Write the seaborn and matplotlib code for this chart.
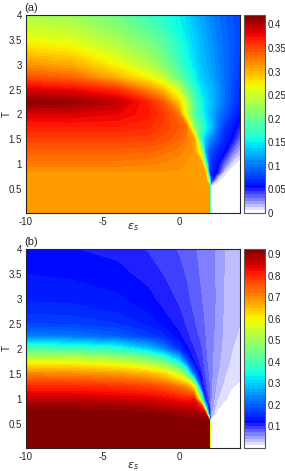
import matplotlib
matplotlib.use('Agg')
import matplotlib.pyplot as plt
from matplotlib.colors import ListedColormap
import numpy as np
import seaborn as sns

# grid (denser near the phase boundary)
eps_s = [-10, -7, -4, -2, -1, 0, 0.5, 1, 1.5, 1.75, 2.0, 2.1, 2.5, 3, 3.5, 4]
temps = [0.02, 0.55, 0.7, 0.85, 1.0, 1.25, 1.5, 1.75, 2.0, 2.25, 2.5, 2.75, 3.0, 3.5, 4.0]

# panel (a): one row per temperature, columns follow eps_s
panel_a = [
    [0.314, 0.314, 0.314, 0.314, 0.314, 0.314, 0.314, 0.314, 0.314, 0.314, 0.314, 0, 0, 0, 0, 0],
    [0.314, 0.314, 0.314, 0.314, 0.314, 0.314, 0.314, 0.314, 0.314, 0.314, 0.314, 0, 0, 0, 0, 0],
    [0.314, 0.314, 0.314, 0.314, 0.314, 0.314, 0.314, 0.314, 0.314, 0.314, 0.2, 0.06, 0.013, 0, 0, 0],
    [0.315, 0.315, 0.315, 0.315, 0.315, 0.314, 0.314, 0.314, 0.314, 0.3, 0.07, 0.066, 0.054, 0.01, 0, 0],
    [0.324, 0.324, 0.324, 0.322, 0.32, 0.317, 0.314, 0.314, 0.314, 0.2, 0.075, 0.07, 0.058, 0.03, 0.009, 0],
    [0.337, 0.337, 0.337, 0.335, 0.33, 0.324, 0.318, 0.314, 0.24, 0.11, 0.085, 0.082, 0.068, 0.056, 0.031, 0.0145],
    [0.352, 0.352, 0.352, 0.35, 0.345, 0.335, 0.325, 0.31, 0.16, 0.13, 0.11, 0.105, 0.085, 0.065, 0.0525, 0.031],
    [0.366, 0.367, 0.367, 0.362, 0.352, 0.342, 0.33, 0.22, 0.175, 0.155, 0.14, 0.135, 0.1, 0.072, 0.062, 0.047],
    [0.385, 0.385, 0.38, 0.37, 0.355, 0.33, 0.255, 0.19, 0.16, 0.145, 0.13, 0.125, 0.105, 0.088, 0.072, 0.058],
    [0.415, 0.41, 0.395, 0.365, 0.34, 0.29, 0.245, 0.19, 0.155, 0.145, 0.135, 0.132, 0.115, 0.098, 0.08, 0.066],
    [0.385, 0.378, 0.36, 0.32, 0.295, 0.25, 0.205, 0.17, 0.145, 0.138, 0.13, 0.128, 0.115, 0.098, 0.082, 0.07],
    [0.345, 0.335, 0.3, 0.27, 0.245, 0.2, 0.175, 0.155, 0.135, 0.13, 0.124, 0.122, 0.11, 0.097, 0.085, 0.074],
    [0.315, 0.305, 0.27, 0.238, 0.215, 0.18, 0.16, 0.146, 0.13, 0.125, 0.12, 0.118, 0.108, 0.097, 0.087, 0.076],
    [0.267, 0.258, 0.23, 0.205, 0.188, 0.162, 0.15, 0.138, 0.126, 0.12, 0.115, 0.113, 0.104, 0.095, 0.088, 0.079],
    [0.232, 0.226, 0.2, 0.175, 0.163, 0.15, 0.142, 0.13, 0.12, 0.115, 0.109, 0.107, 0.1, 0.092, 0.086, 0.081],
]

# panel (b)
panel_b = [
    [0.92, 0.92, 0.92, 0.92, 0.92, 0.92, 0.92, 0.92, 0.92, 0.92, 0.92, 0, 0, 0, 0, 0],
    [0.92, 0.92, 0.92, 0.92, 0.92, 0.92, 0.92, 0.918, 0.915, 0.918, 0.92, 0, 0, 0, 0, 0],
    [0.918, 0.918, 0.916, 0.914, 0.912, 0.905, 0.9, 0.9, 0.89, 0.88, 0.095, 0.045, 0.008, 0, 0, 0],
    [0.905, 0.905, 0.9, 0.89, 0.875, 0.865, 0.86, 0.86, 0.8, 0.35, 0.082, 0.055, 0.02, 0.008, 0, 0],
    [0.865, 0.865, 0.855, 0.845, 0.835, 0.82, 0.81, 0.82, 0.45, 0.11, 0.077, 0.058, 0.03, 0.016, 0.008, 0.002],
    [0.8, 0.8, 0.79, 0.775, 0.755, 0.72, 0.7, 0.6, 0.12, 0.09, 0.072, 0.06, 0.039, 0.024, 0.015, 0.012],
    [0.71, 0.705, 0.69, 0.66, 0.63, 0.55, 0.45, 0.2, 0.1, 0.08, 0.069, 0.061, 0.045, 0.03, 0.021, 0.017],
    [0.58, 0.575, 0.55, 0.5, 0.45, 0.33, 0.2, 0.115, 0.09, 0.075, 0.067, 0.061, 0.049, 0.034, 0.026, 0.02],
    [0.41, 0.4, 0.37, 0.3, 0.24, 0.16, 0.12, 0.1, 0.086, 0.073, 0.066, 0.061, 0.052, 0.036, 0.029, 0.024],
    [0.23, 0.225, 0.2, 0.17, 0.15, 0.12, 0.105, 0.093, 0.081, 0.071, 0.065, 0.061, 0.054, 0.038, 0.031, 0.027],
    [0.175, 0.172, 0.16, 0.14, 0.125, 0.11, 0.098, 0.088, 0.077, 0.069, 0.064, 0.061, 0.055, 0.039, 0.033, 0.029],
    [0.155, 0.152, 0.143, 0.128, 0.116, 0.103, 0.094, 0.084, 0.074, 0.068, 0.063, 0.06, 0.056, 0.04, 0.034, 0.03],
    [0.142, 0.14, 0.133, 0.12, 0.11, 0.098, 0.09, 0.081, 0.072, 0.067, 0.062, 0.06, 0.057, 0.041, 0.035, 0.031],
    [0.13, 0.127, 0.12, 0.11, 0.1, 0.091, 0.085, 0.077, 0.069, 0.066, 0.061, 0.059, 0.057, 0.042, 0.036, 0.032],
    [0.118, 0.116, 0.111, 0.099, 0.093, 0.085, 0.08, 0.074, 0.066, 0.064, 0.06, 0.059, 0.057, 0.043, 0.037, 0.033],
]

x_ticks = [-10, -5, 0]
y_ticks = [0.5, 1, 1.5, 2, 2.5, 3, 3.5, 4]
y_labels = ['0.5', '1', '1.5', '2', '2.5', '3', '3.5', '4']
a_ticks = [0, 0.05, 0.1, 0.15, 0.2, 0.25, 0.3, 0.35, 0.4]
a_labels = ['0', '0.05', '0.1', '0.15', '0.2', '0.25', '0.3', '0.35', '0.4']
b_ticks = [0.1, 0.2, 0.3, 0.4, 0.5, 0.6, 0.7, 0.8, 0.9]
b_labels = ['0.1', '0.2', '0.3', '0.4', '0.5', '0.6', '0.7', '0.8', '0.9']

sns.set_style('ticks')
plt.rcParams['font.family'] = ['Liberation Sans', 'DejaVu Sans']

# jet with its dark-blue start swapped for white -> blue steps
low = sns.blend_palette(['white', '#0000ff'], 9)[:8]
high = [plt.cm.jet((i + 0.5) / 64) for i in range(8, 64)]
cmap = ListedColormap(list(low) + high)

fig = plt.figure(figsize=(2.85, 4.71), dpi=100)


def draw_panel(data, vmax, cticks, clabels, bottom, height, tag, xlab_y):
    ax = fig.add_axes([26 / 285, bottom, 214 / 285, height])
    cax = fig.add_axes([244 / 285, bottom, 21 / 285, height])
    levels = np.linspace(0, vmax, 65)
    cs = ax.contourf(eps_s, temps, np.array(data), levels=levels, cmap=cmap)
    ax.set_xlim(-10, 4)
    ax.set_ylim(0.02, 4)
    ax.set_xticks(x_ticks)
    ax.set_xticklabels([str(t) for t in x_ticks])
    ax.set_yticks(y_ticks)
    ax.set_yticklabels(y_labels)
    ax.tick_params(direction='in', top=True, right=True, length=2.5, width=0.6,
                   labelsize=7, pad=3, color='0.15')
    for s in ax.spines.values():
        s.set_linewidth(0.8)
        s.set_color('0.15')
    ax.set_xlabel(r'$\varepsilon_s$', fontsize=8)
    ax.xaxis.set_label_coords(0.5, xlab_y)
    ax.set_ylabel('T', fontsize=7)
    ax.yaxis.set_label_coords(-0.065, 0.5)
    ax.text(-0.01, 1.01, tag, transform=ax.transAxes, fontsize=8, va='bottom', ha='left')

    cb = fig.colorbar(cs, cax=cax, ticks=cticks)
    cb.ax.set_yticklabels(clabels)
    cb.ax.tick_params(direction='in', length=2, width=0.6, labelsize=7, pad=2, color='0.15')
    cb.outline.set_linewidth(0.8)
    cb.outline.set_edgecolor('0.35')
    return ax


draw_panel(panel_a, 0.42, a_ticks, a_labels, 1 - 213 / 471, 198 / 471, '(a)', -0.04)
draw_panel(panel_b, 0.925, b_ticks, b_labels, 1 - 448 / 471, 199 / 471, '(b)', -0.06)

fig.savefig('out.png', dpi=100)
